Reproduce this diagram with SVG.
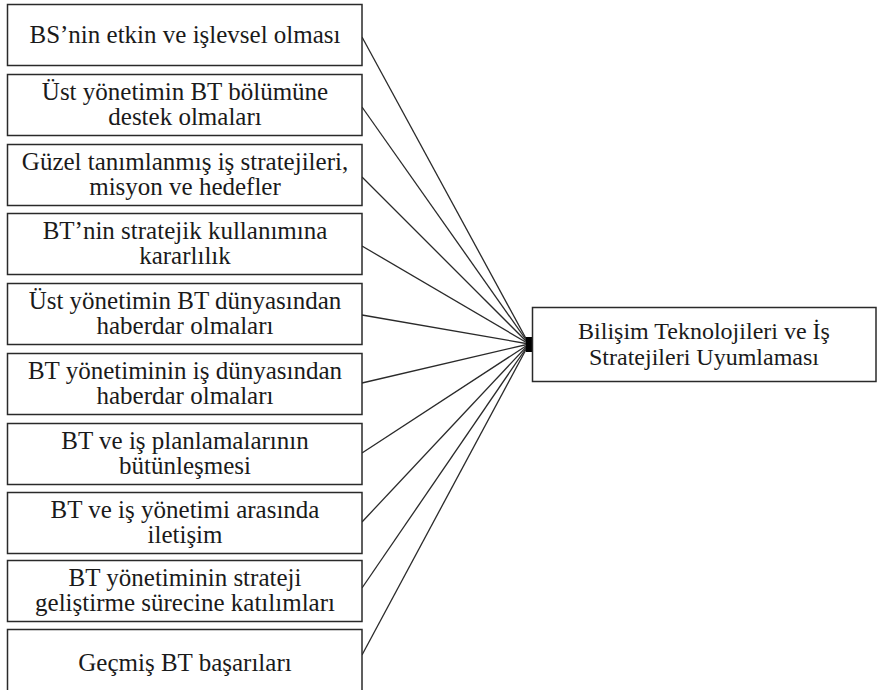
<svg xmlns="http://www.w3.org/2000/svg" width="877" height="690" viewBox="0 0 877 690">
<style>
.box{fill:#fff;stroke:#2a2a2a;stroke-width:1.5}
.t{font-family:"Liberation Serif","Times New Roman",serif;font-size:25px;fill:#1a1a1a;text-anchor:middle}
.t2{font-size:24px}
.c line{stroke:#2a2a2a;stroke-width:1.3}
</style>
<rect width="877" height="690" fill="#fff"/>
<g id="connectors" class="c">
<line x1="362" y1="37" x2="529" y2="344"/>
<line x1="362" y1="107" x2="529" y2="344"/>
<line x1="362" y1="177" x2="529" y2="344"/>
<line x1="362" y1="246" x2="529" y2="344"/>
<line x1="362" y1="315" x2="529" y2="344"/>
<line x1="362" y1="383" x2="529" y2="344"/>
<line x1="362" y1="453" x2="529" y2="344"/>
<line x1="362" y1="522" x2="529" y2="344"/>
<line x1="362" y1="588" x2="529" y2="344"/>
<line x1="362" y1="655" x2="529" y2="344"/>
<rect x="526" y="337" width="6" height="15" fill="#000"/>
</g>
<g id="n1"><rect class="box" x="7.5" y="4.5" width="354.5" height="61"/><text class="t" x="185" y="43">BS’nin etkin ve işlevsel olması</text></g>
<g id="n2"><rect class="box" x="7.5" y="74.5" width="354.5" height="61"/><text class="t" x="185" y="100">Üst yönetimin BT bölümüne</text><text class="t" x="185" y="125">destek olmaları</text></g>
<g id="n3"><rect class="box" x="7.5" y="144.5" width="354.5" height="61"/><text class="t" x="185" y="170">Güzel tanımlanmış iş stratejileri,</text><text class="t" x="185" y="195">misyon ve hedefler</text></g>
<g id="n4"><rect class="box" x="7.5" y="213.5" width="354.5" height="61"/><text class="t" x="185" y="239">BT’nin stratejik kullanımına</text><text class="t" x="185" y="264">kararlılık</text></g>
<g id="n5"><rect class="box" x="7.5" y="283.5" width="354.5" height="61"/><text class="t" x="185" y="309">Üst yönetimin BT dünyasından</text><text class="t" x="185" y="334">haberdar olmaları</text></g>
<g id="n6"><rect class="box" x="7.5" y="353.5" width="354.5" height="61"/><text class="t" x="185" y="379">BT yönetiminin iş dünyasından</text><text class="t" x="185" y="404">haberdar olmaları</text></g>
<g id="n7"><rect class="box" x="7.5" y="423.5" width="354.5" height="61"/><text class="t" x="185" y="449">BT ve iş planlamalarının</text><text class="t" x="185" y="474">bütünleşmesi</text></g>
<g id="n8"><rect class="box" x="7.5" y="492.5" width="354.5" height="61"/><text class="t" x="185" y="518">BT ve iş yönetimi arasında</text><text class="t" x="185" y="543">iletişim</text></g>
<g id="n9"><rect class="box" x="7.5" y="560.5" width="354.5" height="61"/><text class="t" x="185" y="586">BT yönetiminin strateji</text><text class="t" x="185" y="611">geliştirme sürecine katılımları</text></g>
<g id="n10"><rect class="box" x="7.5" y="629.5" width="354.5" height="70"/><text class="t" x="185" y="671">Geçmiş BT başarıları</text></g>
<g id="target"><rect class="box" x="532.5" y="307.5" width="343.5" height="74"/><text class="t t2" x="704" y="339">Bilişim Teknolojileri ve İş</text><text class="t t2" x="704" y="365">Stratejileri Uyumlaması</text></g>
</svg>
